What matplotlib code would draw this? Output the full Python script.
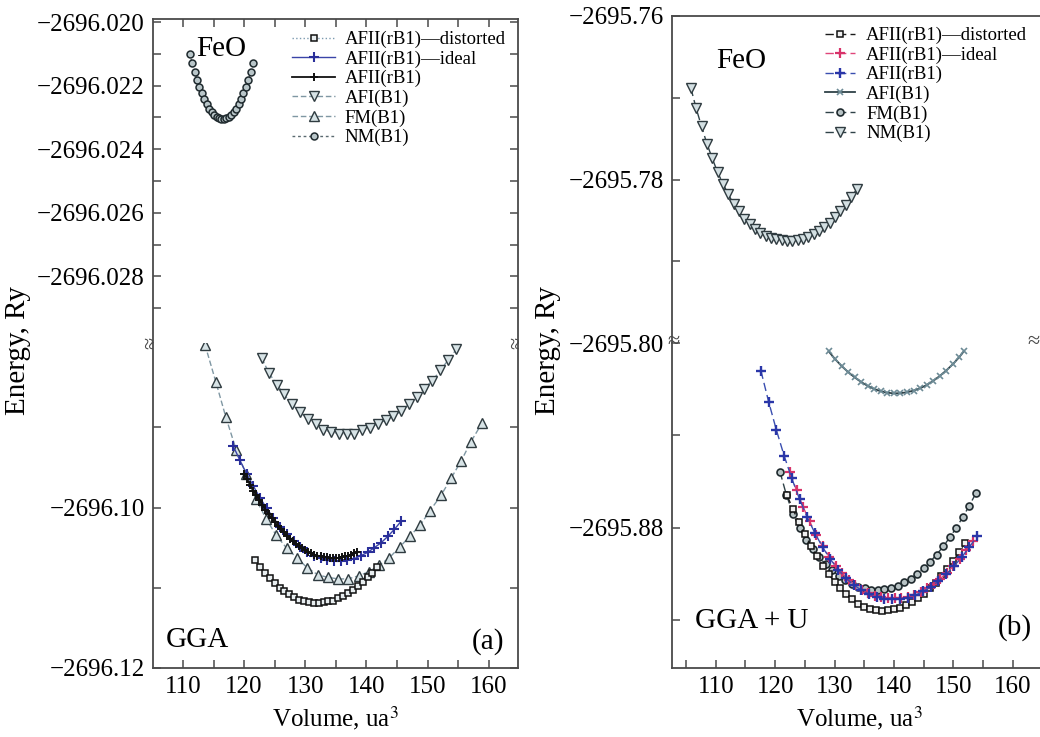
import matplotlib
matplotlib.use("Agg")
import matplotlib.pyplot as plt
from matplotlib.ticker import FixedLocator, FuncFormatter

plt.rcParams["font.family"] = ["Liberation Serif", "DejaVu Serif"]
plt.rcParams["mathtext.fontset"] = "stix"

# ---------------- panel (a): GGA ----------------
a_nm_v = [111.1, 111.5, 111.9, 112.3, 112.7, 113.1, 113.5, 113.9, 114.3, 114.7, 115.1, 115.5, 115.9, 116.3,
          116.7, 117.1, 117.5, 117.9, 118.3, 118.7, 119.1, 119.5, 119.9, 120.3, 120.7, 121.1, 121.5]
a_nm_e = [-2696.02099, -2696.02129, -2696.02156, -2696.02181, -2696.02204, -2696.02224, -2696.02242,
          -2696.02258, -2696.02272, -2696.02283, -2696.02292, -2696.02299, -2696.02303, -2696.02306,
          -2696.02306, -2696.02303, -2696.02299, -2696.02292, -2696.02283, -2696.02272, -2696.02258,
          -2696.02242, -2696.02224, -2696.02204, -2696.02181, -2696.02156, -2696.02129]

a_fm_v = [113.6, 115.4, 117.0, 118.7, 120.3, 121.9, 123.6, 125.2, 127.0, 128.7, 130.3, 132.1, 133.7, 135.4,
          137.0, 138.8, 140.4, 142.1, 143.7, 145.5, 147.2, 148.8, 150.4, 152.2, 153.9, 155.5, 157.1, 158.9]
a_fm_e = [-2696.0797, -2696.0844, -2696.0887, -2696.0928, -2696.0958, -2696.0989, -2696.1014, -2696.1034,
          -2696.1051, -2696.1063, -2696.1075, -2696.1084, -2696.1087, -2696.1089, -2696.1089, -2696.1085,
          -2696.1080, -2696.1072, -2696.1063, -2696.1049, -2696.1035, -2696.1022, -2696.1004, -2696.0985,
          -2696.0963, -2696.0942, -2696.0918, -2696.0895]

a_afi_v = [122.9, 124.1, 125.4, 126.5, 127.8, 129.1, 130.5, 131.8, 132.9, 134.2, 135.5, 136.8, 138.0,
           139.3, 140.6, 141.9, 143.2, 144.4, 145.7, 147.0, 148.3, 149.4, 150.8, 152.1, 153.4, 154.7]
a_afi_e = [-2696.0814, -2696.0833, -2696.0847, -2696.0859, -2696.0871, -2696.0881, -2696.0890, -2696.0896,
           -2696.0903, -2696.0906, -2696.0908, -2696.0908, -2696.0908, -2696.0904, -2696.0901, -2696.0896,
           -2696.0891, -2696.0886, -2696.0880, -2696.0871, -2696.0862, -2696.0852, -2696.0842, -2696.0829,
           -2696.0816, -2696.0803]

a_dist_v = [121.8, 122.6, 123.4, 124.2, 125.0, 125.8, 126.6, 127.4, 128.2, 129.0, 129.8, 130.6, 131.4,
            132.2, 133.0, 133.8, 134.6, 135.4, 136.2, 137.0, 137.8, 138.6, 139.4, 140.2, 141.0, 141.8]
a_dist_e = [-2696.1066, -2696.1074, -2696.1081, -2696.1088, -2696.1094, -2696.1100, -2696.1104, -2696.1108,
            -2696.1112, -2696.1115, -2696.1117, -2696.1118, -2696.1119, -2696.1119, -2696.1118, -2696.1117,
            -2696.1116, -2696.1113, -2696.1110, -2696.1107, -2696.1103, -2696.1098, -2696.1093, -2696.1087,
            -2696.1081, -2696.1074]

a_ideal_v = [118.2, 119.3, 120.4, 121.5, 122.6, 123.7, 124.8, 125.9, 127.0, 128.1, 129.2, 130.3, 131.4,
             132.5, 133.6, 134.7, 135.8, 136.9, 138.0, 139.1, 140.2, 141.3, 142.4, 143.5, 144.6, 145.7]
a_ideal_e = [-2696.0923, -2696.0941, -2696.0958, -2696.0973, -2696.0988, -2696.1001, -2696.1013, -2696.1024,
             -2696.1033, -2696.1042, -2696.1049, -2696.1055, -2696.1060, -2696.1063, -2696.1066, -2696.1067,
             -2696.1067, -2696.1066, -2696.1064, -2696.1060, -2696.1056, -2696.1050, -2696.1044, -2696.1036,
             -2696.1027, -2696.1017]

a_afii_v = [120.0, 120.5, 121.0, 121.5, 122.0, 122.5, 123.0, 123.5, 124.0, 124.5, 125.0, 125.5, 126.0,
            126.5, 127.0, 127.5, 128.0, 128.5, 129.0, 129.5, 130.0, 130.5, 131.0, 131.5, 132.0, 132.5,
            133.0, 133.5, 134.0, 134.5, 135.0, 135.5, 136.0, 136.5, 137.0, 137.5, 138.0, 138.5]
a_afii_e = [-2696.0958, -2696.0965, -2696.0972, -2696.0979, -2696.0985, -2696.0991, -2696.0997, -2696.1003,
            -2696.1008, -2696.1013, -2696.1018, -2696.1023, -2696.1027, -2696.1031, -2696.1035, -2696.1039,
            -2696.1042, -2696.1045, -2696.1048, -2696.1051, -2696.1053, -2696.1055, -2696.1057, -2696.1059,
            -2696.1060, -2696.1061, -2696.1062, -2696.1062, -2696.1063, -2696.1063, -2696.1063, -2696.1063,
            -2696.1062, -2696.1061, -2696.1060, -2696.1059, -2696.1057, -2696.1056]

# ---------------- panel (b): GGA + U ----------------
b_nm_v = [105.8, 106.7, 107.6, 108.5, 109.4, 110.3, 111.2, 112.1, 113.0, 113.9, 114.8, 115.7, 116.6, 117.5,
          118.4, 119.3, 120.2, 121.1, 122.0, 122.9, 123.8, 124.7, 125.6, 126.5, 127.4, 128.3, 129.2, 130.1,
          131.0, 131.9, 132.8, 133.7]
b_nm_e = [-2695.7688, -2695.7713, -2695.7735, -2695.7756, -2695.7774, -2695.7791, -2695.7805, -2695.7818,
          -2695.7830, -2695.7839, -2695.7848, -2695.7855, -2695.7860, -2695.7865, -2695.7869, -2695.7871,
          -2695.7873, -2695.7874, -2695.7875, -2695.7875, -2695.7874, -2695.7873, -2695.7870, -2695.7867,
          -2695.7863, -2695.7858, -2695.7853, -2695.7846, -2695.7839, -2695.7831, -2695.7822, -2695.7812]

b_afi_v = [129.0, 130.1, 131.2, 132.3, 133.4, 134.5, 135.6, 136.7, 137.8, 138.9, 140.0, 141.1, 142.2,
           143.3, 144.4, 145.5, 146.6, 147.7, 148.8, 149.9, 151.0, 151.8]
b_afi_e = [-2695.8036, -2695.8070, -2695.8100, -2695.8126, -2695.8149, -2695.8169, -2695.8186, -2695.8199,
           -2695.8209, -2695.8215, -2695.8218, -2695.8217, -2695.8213, -2695.8206, -2695.8196, -2695.8182,
           -2695.8164, -2695.8143, -2695.8119, -2695.8092, -2695.8061, -2695.8035]

b_fm_v = [120.8, 121.9, 123.0, 124.1, 125.2, 126.3, 127.4, 128.5, 129.6, 130.7, 131.8, 132.9, 134.0, 135.1,
          136.2, 137.3, 138.4, 139.5, 140.6, 141.7, 142.8, 143.9, 145.0, 146.1, 147.2, 148.3, 149.4, 150.5,
          151.6, 152.7, 153.8]
b_fm_e = [-2695.8556, -2695.8658, -2695.8739, -2695.8802, -2695.8853, -2695.8893, -2695.8927, -2695.8957,
          -2695.8984, -2695.9007, -2695.9026, -2695.9042, -2695.9054, -2695.9062, -2695.9067, -2695.9068,
          -2695.9065, -2695.9059, -2695.9050, -2695.9036, -2695.9019, -2695.8999, -2695.8974, -2695.8946,
          -2695.8915, -2695.8880, -2695.8841, -2695.8799, -2695.8753, -2695.8703, -2695.8650]

b_dist_v = [122.0, 123.0, 124.0, 125.0, 126.0, 127.0, 128.0, 129.0, 130.0, 131.0, 132.0, 133.0, 134.0,
            135.0, 136.0, 137.0, 138.0, 139.0, 140.0, 141.0, 142.0, 143.0, 144.0, 145.0, 146.0, 147.0,
            148.0, 149.0, 150.0, 151.0, 152.0]
b_dist_e = [-2695.8659, -2695.8719, -2695.8776, -2695.8828, -2695.8877, -2695.8922, -2695.8963, -2695.9000,
            -2695.9033, -2695.9062, -2695.9088, -2695.9109, -2695.9127, -2695.9140, -2695.9150, -2695.9156,
            -2695.9158, -2695.9157, -2695.9152, -2695.9145, -2695.9134, -2695.9121, -2695.9104, -2695.9085,
            -2695.9062, -2695.9037, -2695.9008, -2695.8977, -2695.8942, -2695.8905, -2695.8864]

b_ideal_v = [122.5, 123.6, 124.7, 125.8, 126.9, 128.0, 129.1, 130.2, 131.3, 132.4, 133.5, 134.6, 135.7,
             136.8, 137.9, 139.0, 140.1, 141.2, 142.3, 143.4, 144.5, 145.6, 146.7, 147.8, 148.9, 150.0,
             151.1, 152.2, 153.3]
b_ideal_e = [-2695.8560, -2695.8638, -2695.8709, -2695.8772, -2695.8829, -2695.8880, -2695.8924, -2695.8963,
             -2695.8996, -2695.9025, -2695.9048, -2695.9067, -2695.9082, -2695.9093, -2695.9100, -2695.9104,
             -2695.9105, -2695.9103, -2695.9098, -2695.9089, -2695.9077, -2695.9061, -2695.9042, -2695.9020,
             -2695.8994, -2695.8965, -2695.8933, -2695.8897, -2695.8857]

b_afii_v = [117.6, 118.9, 120.2, 121.5, 122.8, 124.1, 125.4, 126.7, 128.0, 129.3, 130.6, 131.9, 133.2,
            134.5, 135.8, 137.1, 138.4, 139.7, 141.0, 142.3, 143.6, 144.9, 146.2, 147.5, 148.8, 150.1,
            151.4, 152.7, 154.0]
b_afii_e = [-2695.8120, -2695.8254, -2695.8376, -2695.8487, -2695.8586, -2695.8675, -2695.8754, -2695.8823,
            -2695.8884, -2695.8936, -2695.8980, -2695.9016, -2695.9046, -2695.9069, -2695.9087, -2695.9099,
            -2695.9106, -2695.9109, -2695.9108, -2695.9102, -2695.9091, -2695.9075, -2695.9055, -2695.9030,
            -2695.9001, -2695.8966, -2695.8927, -2695.8883, -2695.8835]

W, H = 1040, 737
fig = plt.figure(figsize=(W / 100, H / 100), dpi=100)


def box(x0, y0, x1, y1):
    return [x0 / W, 1 - y1 / H, (x1 - x0) / W, (y1 - y0) / H]


def fmt(nd):
    return FuncFormatter(lambda v, p: f"{v:.{nd}f}".replace("-", "\u2212"))


SPINE = "#4a4a4a"
TFS = 18
AFS = 21

a_top = fig.add_axes(box(153, 19, 518, 343))
a_bot = fig.add_axes(box(153, 343, 518, 668))
b_top = fig.add_axes(box(672, 16, 1046, 343))
b_bot = fig.add_axes(box(672, 343, 1046, 668))

for ax in (a_top, a_bot, b_top, b_bot):
    for s in ax.spines.values():
        s.set_color(SPINE)
        s.set_linewidth(1.3)
    ax.tick_params(which="both", direction="in", length=6, width=1.1, color=SPINE,
                   labelsize=TFS, pad=6)
    ax.xaxis.set_major_locator(FixedLocator([110, 120, 130, 140, 150, 160]))
    ax.xaxis.set_minor_locator(FixedLocator([105, 115, 125, 135, 145, 155, 165]))

for ax in (a_top, a_bot):
    ax.set_xlim(105.1, 164.8)
for ax in (b_top, b_bot):
    ax.set_xlim(102.63, 165.6)

# broken-axis plumbing
for ax in (a_top, b_top):
    ax.spines["bottom"].set_visible(False)
    ax.tick_params(which="both", bottom=False, labelbottom=False)
for ax in (a_bot, b_bot):
    ax.spines["top"].set_visible(False)
    ax.tick_params(which="both", top=False)

a_top.tick_params(which="both", top=True, right=True)
a_bot.tick_params(which="both", right=True)
b_top.tick_params(which="both", top=False, right=False)
b_bot.tick_params(which="both", right=False)
b_top.spines["right"].set_visible(False)
b_bot.spines["right"].set_visible(False)

# y scales
a_top.set_ylim(-2696.0301, -2696.0199)
a_top.yaxis.set_major_locator(FixedLocator([-2696.020, -2696.022, -2696.024, -2696.026, -2696.028]))
a_top.yaxis.set_minor_locator(FixedLocator([-2696.021, -2696.023, -2696.025, -2696.027, -2696.029]))
a_top.yaxis.set_major_formatter(fmt(3))

a_bot.set_ylim(-2696.12, -2696.0795)
a_bot.yaxis.set_major_locator(FixedLocator([-2696.10, -2696.12]))
a_bot.yaxis.set_minor_locator(FixedLocator([-2696.09, -2696.11]))
a_bot.yaxis.set_major_formatter(fmt(2))

b_top.set_ylim(-2695.80, -2695.76)
b_top.yaxis.set_major_locator(FixedLocator([-2695.76, -2695.78]))
b_top.yaxis.set_minor_locator(FixedLocator([-2695.77, -2695.79]))
b_top.yaxis.set_major_formatter(fmt(2))

b_bot.set_ylim(-2695.9406, -2695.80)
b_bot.yaxis.set_major_locator(FixedLocator([-2695.80, -2695.88]))
b_bot.yaxis.set_minor_locator(FixedLocator([-2695.84, -2695.92]))
b_bot.yaxis.set_major_formatter(fmt(2))

for ax in (a_bot, b_bot):
    ax.set_xlabel("Volume, ua$^3$", fontsize=TFS, labelpad=4)

fig.text(18 / W, 1 - 350 / H, "Energy, Ry", rotation=90, ha="center", va="center", fontsize=21)
fig.text(548 / W, 1 - 350 / H, "Energy, Ry", rotation=90, ha="center", va="center", fontsize=21)

# break marks
for xp, rot in ((152, 90), (518, 90), (674, 0), (1034, 0)):
    fig.text(xp / W, 1 - 343 / H, "\u2248", ha="center", va="center", rotation=rot,
             fontsize=16, color=SPINE)

# ---- panel (a) curves ----
grey_line = "#7f97a3"
light_face = "#d7e3e6"
h_dist, = a_bot.plot(a_dist_v, a_dist_e, ls=":", lw=1.0, color="#7d9bb0", marker="s", ms=4,
                     mfc="#e8eef0", mec="#111111", mew=1.1, label="AFII(rB1)\u2014distorted", zorder=4)
h_fm, = a_bot.plot(a_fm_v, a_fm_e, ls=(0, (4, 2)), lw=1.0, color=grey_line, marker="^", ms=7,
                   mfc=light_face, mec="#2f3b40", mew=1.0, label="FM(B1)", zorder=3)
h_afi, = a_bot.plot(a_afi_v, a_afi_e, ls=(0, (4, 2)), lw=1.0, color=grey_line, marker="v", ms=7,
                    mfc=light_face, mec="#2f3b40", mew=1.0, label="AFI(B1)", zorder=3)
h_ideal, = a_bot.plot(a_ideal_v, a_ideal_e, ls="-", lw=1.0, color="#3a44a8", marker="+", ms=7,
                      mew=1.5, mec="#2a2f9a", label="AFII(rB1)\u2014ideal", zorder=5)
h_afii, = a_bot.plot(a_afii_v, a_afii_e, ls="-", lw=1.3, color="#111111", marker="+", ms=6,
                     mew=1.4, mec="#111111", label="AFII(rB1)", zorder=6)
h_nm, = a_top.plot(a_nm_v, a_nm_e, ls=(0, (2, 2)), lw=1.0, color="#5a6a70", marker="o", ms=5,
                   mfc="#b9c6c9", mec="#1f2a2e", mew=1.1, label="NM(B1)", zorder=3)

fig.legend([h_dist, h_ideal, h_afii, h_afi, h_fm, h_nm],
           [h.get_label() for h in (h_dist, h_ideal, h_afii, h_afi, h_fm, h_nm)],
           loc="upper left", bbox_to_anchor=(292 / W, 1 - 31 / H), frameon=False,
           borderpad=0, borderaxespad=0, handlelength=2.3, handletextpad=0.5,
           labelspacing=0.12, fontsize=13.5)

a_top.text(112.1, -2696.02085, "FeO", fontsize=AFS, ha="left", va="center", zorder=5)
a_bot.text(107.2, -2696.1165, "GGA", fontsize=AFS, ha="left", va="center")
a_bot.text(162.5, -2696.1167, "(a)", fontsize=AFS, ha="right", va="center")

# ---- panel (b) curves ----
dark_line = "#2f4248"
hb_dist, = b_bot.plot(b_dist_v, b_dist_e, ls=(0, (6, 3)), lw=1.0, color="#1a1a1a", marker="s", ms=4.5,
                      mfc="#f0f0f0", mec="#111111", mew=1.1, label="AFII(rB1)\u2014distorted", zorder=4)
hb_fm, = b_bot.plot(b_fm_v, b_fm_e, ls=(0, (6, 3)), lw=1.0, color=dark_line, marker="o", ms=5,
                    mfc="#b8c3c5", mec="#1f2a2e", mew=1.2, label="FM(B1)", zorder=3)
hb_ideal, = b_bot.plot(b_ideal_v, b_ideal_e, ls=(0, (6, 3)), lw=1.0, color="#e0457a", marker="+", ms=7,
                       mew=1.6, mec="#d8336a", label="AFII(rB1)\u2014ideal", zorder=5)
hb_afii, = b_bot.plot(b_afii_v, b_afii_e, ls=(0, (6, 3)), lw=1.0, color="#3a4eb0", marker="+", ms=7.5,
                      mew=1.7, mec="#2a36a8", label="AFII(rB1)", zorder=6)
hb_afi, = b_bot.plot(b_afi_v, b_afi_e, ls="-", lw=1.3, color=dark_line, marker="x", ms=5,
                     mew=1.2, mec="#6d8b96", label="AFI(B1)", zorder=3)
hb_nm, = b_top.plot(b_nm_v, b_nm_e, ls=(0, (6, 3)), lw=1.0, color=dark_line, marker="v", ms=7,
                    mfc="#d3dfe2", mec="#2f3b40", mew=1.0, label="NM(B1)", zorder=3)

fig.legend([hb_dist, hb_ideal, hb_afii, hb_afi, hb_fm, hb_nm],
           [h.get_label() for h in (hb_dist, hb_ideal, hb_afii, hb_afi, hb_fm, hb_nm)],
           loc="upper left", bbox_to_anchor=(825 / W, 1 - 27 / H), frameon=False,
           borderpad=0, borderaxespad=0, handlelength=1.6, handletextpad=0.6,
           labelspacing=0.12, fontsize=13.5)

b_top.text(110.0, -2695.7655, "FeO", fontsize=AFS, ha="left", va="center")
b_bot.text(106.5, -2695.9201, "GGA + U", fontsize=AFS, ha="left", va="center")
b_bot.text(163.2, -2695.9230, "(b)", fontsize=AFS, ha="right", va="center")

fig.savefig("out.png", dpi=100)
